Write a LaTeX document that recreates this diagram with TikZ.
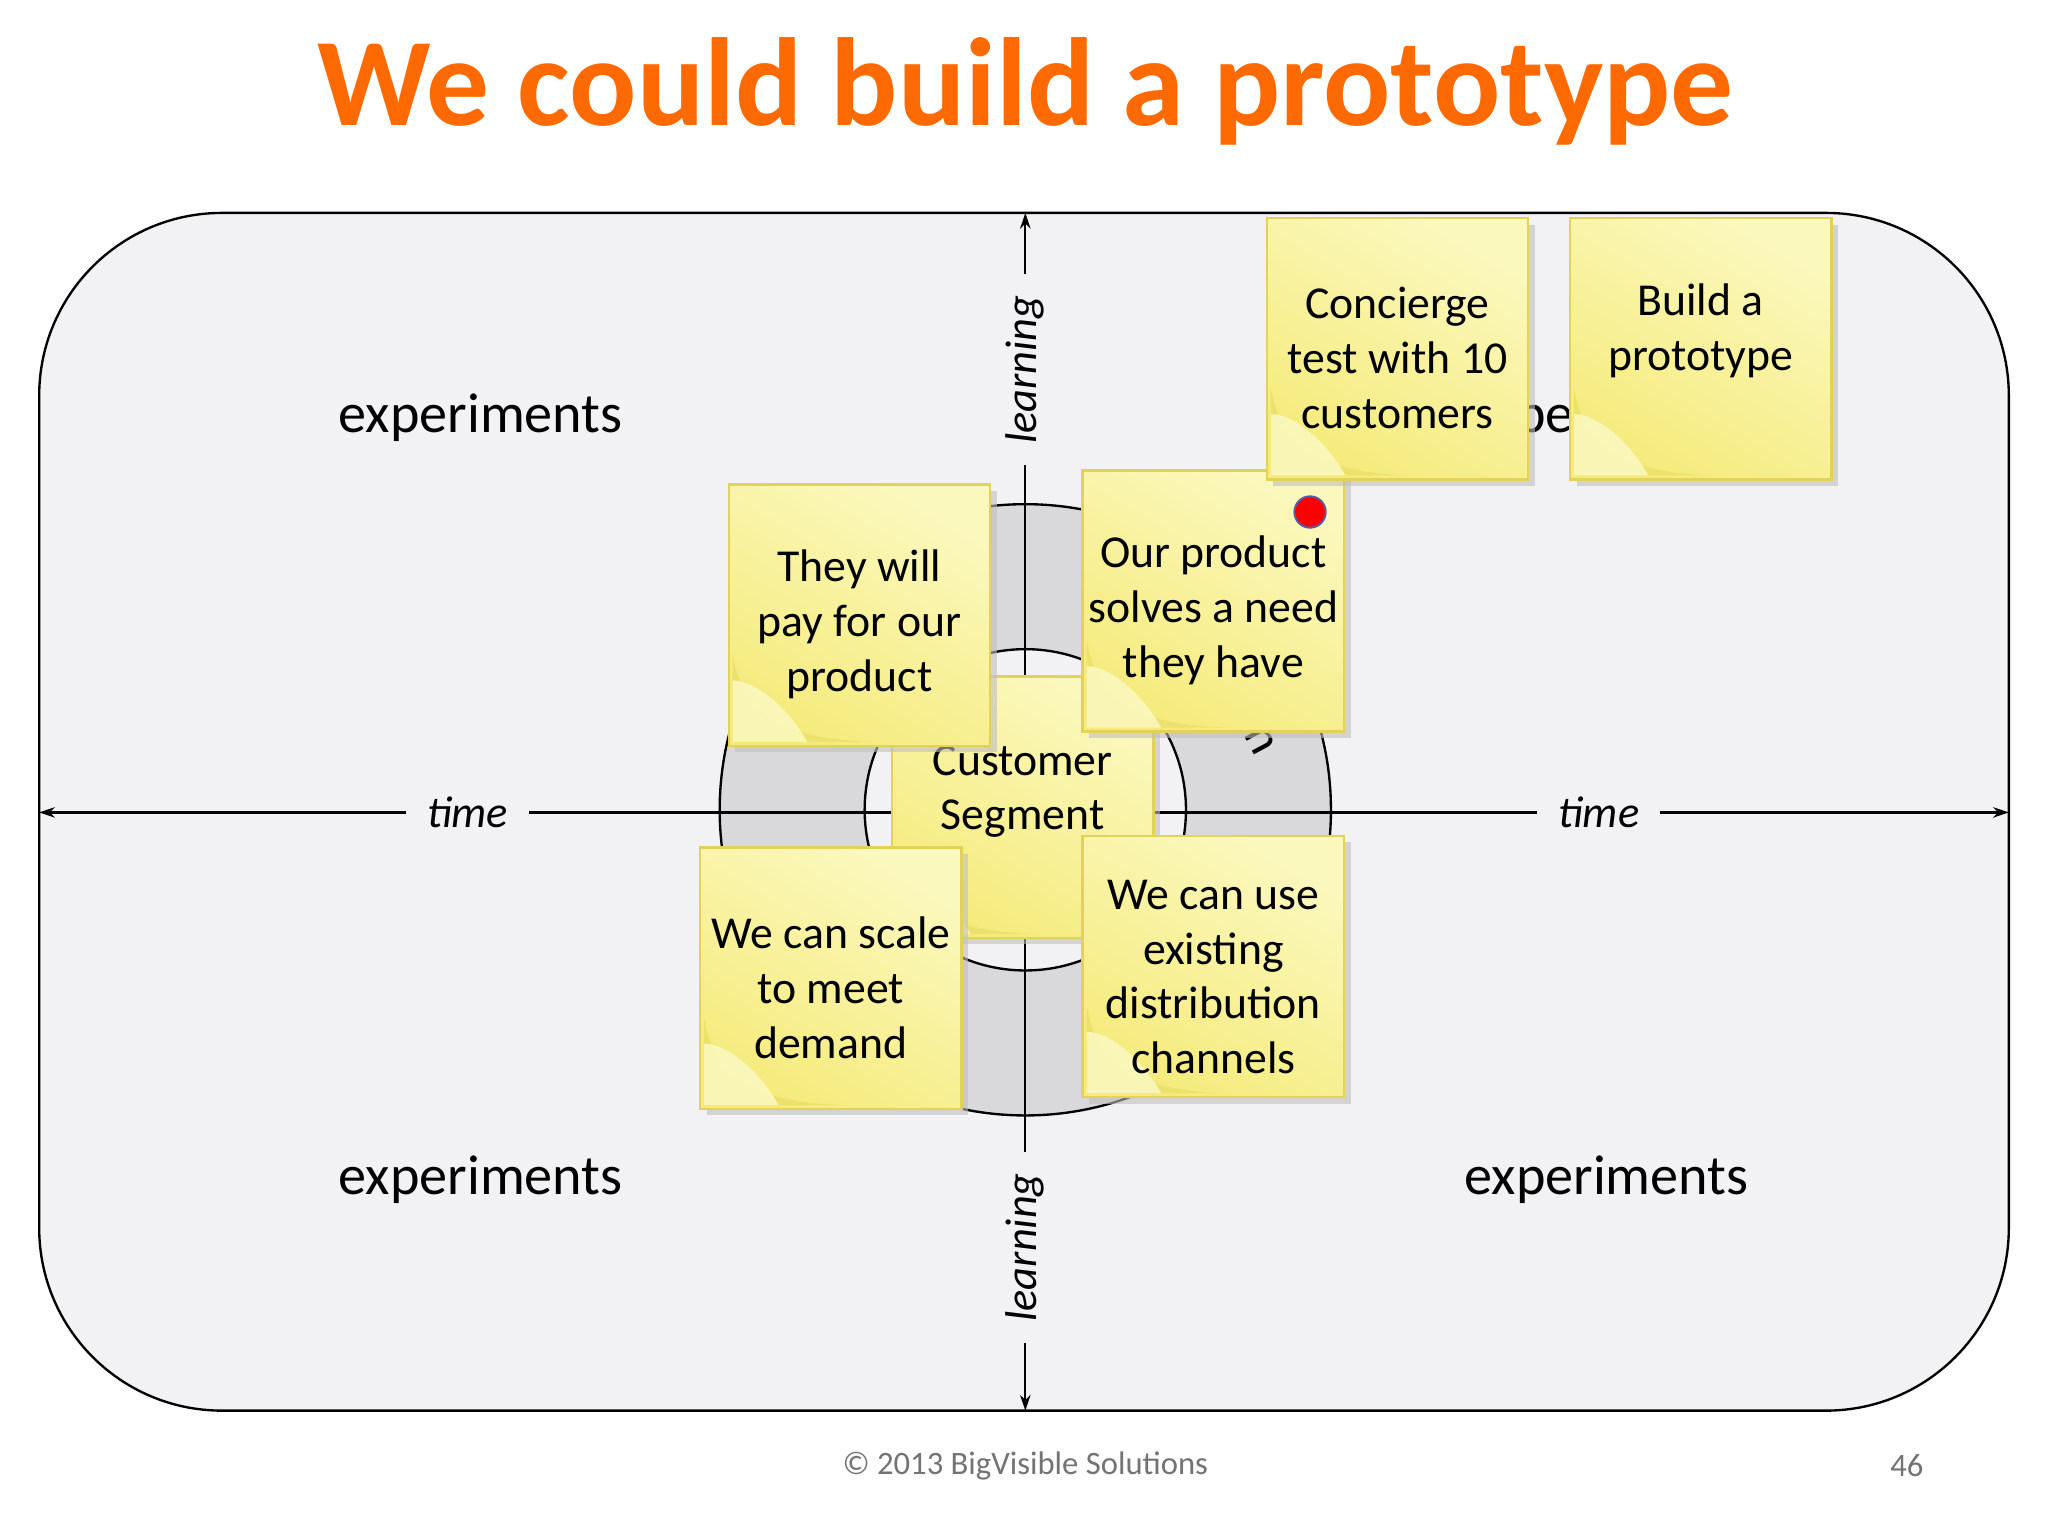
\documentclass[tikz,border=0pt]{standalone}
\usepackage{fontspec}
\setmainfont{Carlito}
\usetikzlibrary{arrows.meta}
\definecolor{bgc}{HTML}{F2F1F3}
\definecolor{ttl}{HTML}{FF6A00}
\definecolor{ringc}{HTML}{D9D9DB}
\definecolor{noteA}{HTML}{FBF8BE}
\definecolor{noteB}{HTML}{F5EB7C}
\definecolor{noteE}{HTML}{E3D25A}
\definecolor{curl}{HTML}{EADF66}
\tikzset{
  ax/.style={line width=1.8pt,-{Stealth[length=12pt,width=8pt]}},
  lbl/.style={font=\fontsize{34}{38}\selectfont\itshape,inner xsep=16pt},
  expt/.style={font=\fontsize{43}{46}\selectfont},
  notetxt/.style={font=\fontsize{35}{42}\selectfont,align=center},
  notebox/.style={draw=noteE,line width=2pt,top color=noteA,bottom color=noteB,shading angle=-30},
}
\newcommand\snote[5]{%
  \fill[black!25,opacity=.6] (#2+5,#3+5) rectangle (#2+205,#3+205);
  \path[notebox] (#2,#3) rectangle (#2+200,#3+200);
  \fill[curl,opacity=.8] (#2+3,#3+130) .. controls (#2+10,#3+175) and (#2+40,#3+195) .. (#2+110,#3+197) -- (#2+3,#3+197) -- cycle;
  \fill[noteA,opacity=.9] (#2+3,#3+150) .. controls (#2+20,#3+150) and (#2+45,#3+170) .. (#2+60,#3+197) -- (#2+3,#3+197) -- cycle;
  \node[notetxt] (#1) at (#2+100,#3+#5) {#4};
}
\begin{document}
\begin{tikzpicture}[x=1pt,y=-1pt]
\useasboundingbox (0,0) rectangle (1568,1176);
\fill[white] (0,0) rectangle (1568,1176);
\node[font=\fontsize{96}{110}\selectfont\bfseries,text=ttl] (title) at (785,70) {We could build a prototype};
\draw[fill=bgc,line width=1.8pt,rounded corners=140pt] (30,163) rectangle (1538,1080);
% ring
\fill[ringc,draw=black,line width=1.8pt,even odd rule] (785,620) circle[radius=234] (785,620) circle[radius=123];
\node[font=\fontsize{38}{40}\selectfont,rotate=-62] (ringn) at (965,567) {n};
% axes
\coordinate (L) at (30,622); \coordinate (R) at (1538,622);
\coordinate (T) at (785,163); \coordinate (B) at (785,1080);
\node[lbl] (tl) at (358,622) {time};
\node[lbl] (tr) at (1224,622) {time};
\node[lbl,rotate=90] (lt) at (785,283) {learning};
\node[lbl,rotate=90] (lb) at (785,955) {learning};
\draw[ax] (tl.west) -- (L);
\draw[line width=1.8pt] (tl.east) -- (tr.west);
\draw[ax] (tr.east) -- (R);
\draw[ax] (lt.east) -- (T);
\draw[line width=1.8pt] (lt.west) -- (lb.east);
\draw[ax] (lb.west) -- (B);
\node[expt] (e1) at (368,320) {experiments};
\node[expt] (e2) at (368,903) {experiments};
\node[expt] (e3) at (1230,903) {experiments};
\node[expt] (e4) at (1230,320) {experiments};
% notes
\snote{cs}{683}{518}{Customer\\Segment}{88}
\snote{pay}{558}{371}{They will\\pay for our\\product}{107}
\snote{need}{829}{360}{Our product\\solves a need\\they have}{107}
\snote{scale}{536}{649}{We can scale\\to meet\\demand}{107}
\snote{dist}{829}{640}{We can use\\existing\\distribution\\channels}{108}
\snote{conc}{970}{167}{Concierge\\test with 10\\customers}{107}
\snote{proto}{1202}{167}{Build a\\prototype}{86}
\fill[red,draw=gray!70!blue,line width=1.5pt] (1003,392) circle[radius=12];
\node[font=\fontsize{25}{28}\selectfont,text=black!55] (foot) at (785,1122) {© 2013 BigVisible Solutions};
\node[font=\fontsize{25}{28}\selectfont,text=black!55] (pg) at (1460,1122) {46};
\end{tikzpicture}
\end{document}
